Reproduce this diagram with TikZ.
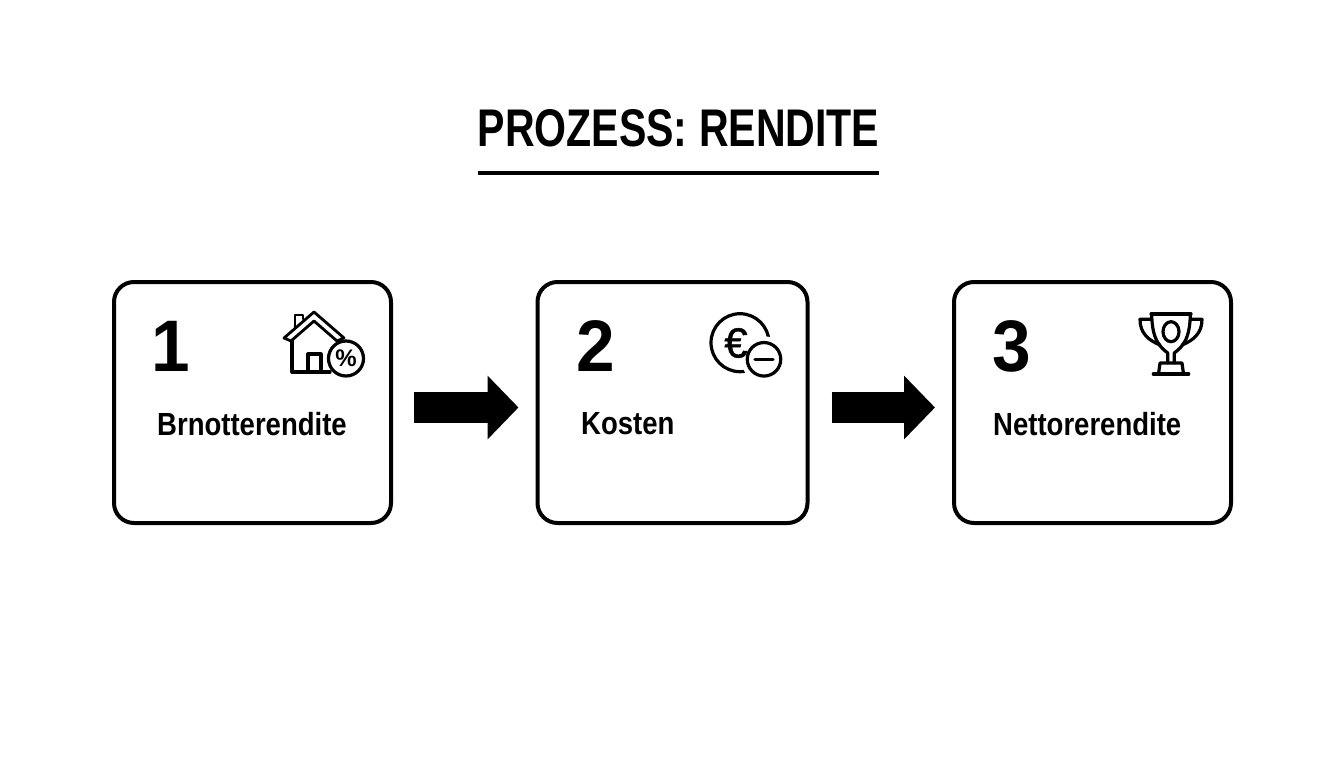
\documentclass[tikz,border=0pt]{standalone}
\usepackage{fontspec}
\setmainfont{Liberation Sans}
\newfontfamily\condfont[FakeStretch=0.86]{Liberation Sans}
\newfontfamily\titlefont[FakeStretch=0.775]{Liberation Sans}
\newfontfamily\numfont[FakeStretch=0.95]{Liberation Sans}
\newfontfamily\eurofont[FakeBold=1.2]{Liberation Sans}
\usepackage{tikz}
\usetikzlibrary{arrows.meta,positioning}
\tikzstyle{flowarrow} = [line width=31pt,-{Triangle[length=31pt,width=62pt]},color=black]
\tikzstyle{stepbox} = [rectangle, rounded corners=20pt, minimum height=241pt, draw=black, fill=white, line width=4pt]
\tikzstyle{steplabel} = [anchor=west, inner sep=0pt, font=\condfont\bfseries\fontsize{32}{32}\selectfont]
\tikzstyle{stepnum} = [anchor=west, inner sep=0pt, font=\numfont\bfseries\fontsize{73}{73}\selectfont]
\tikzstyle{icon} = [line width=3.2pt, line join=round, line cap=round]
\begin{document}
\begin{tikzpicture}[x=1pt,y=-1pt]
\useasboundingbox (0,0) rectangle (1344,768);
% Title
\node (title) [inner sep=0pt, font=\titlefont\bfseries\fontsize{53}{53}\selectfont] at (678.5,128) {PROZESS: RENDITE};
\coordinate (ruleL) at (478,173);
\coordinate (ruleR) at (879,173);
\draw[line width=4.5pt] (ruleL) -- (ruleR);

% Steps as nodes
\node (s1) [stepbox, minimum width=277pt] at (252.5,402.5) {};
\node (s2) [stepbox, minimum width=270pt] at (672.5,402.5) {};
\node (s3) [stepbox, minimum width=277pt] at (1092.5,402.5) {};

\node (n1) [stepnum] at (151,346) {1};
\node (n2) [stepnum] at (576,346) {2};
\node (n3) [stepnum] at (992,346) {3};

\node (t1) [steplabel] at (157,424) {Brnotterendite};
\node (t2) [steplabel] at (581,424) {Kosten};
\node (t3) [steplabel] at (993,424) {Nettorerendite};

% Arrows
\draw[flowarrow, shorten <=21pt, shorten >=17pt] ([yshift=-5pt]s1.east) -- ([yshift=-5pt]s2.west);
\draw[flowarrow, shorten <=22pt, shorten >=17pt] ([yshift=-5pt]s2.east) -- ([yshift=-5pt]s3.west);

% House icon
\draw[icon, line width=2.8pt] (284,338) -- (314,312) -- (344,338) -- (337,341) -- (314,321) -- (291,341) -- cycle;
\draw[icon, line width=2.8pt] (295,327) -- (295,315) -- (303,315) -- (303,319);
\draw[icon] (292,341) -- (292,372) -- (330,372);
\draw[icon] (308,372) -- (308,354) -- (321,354) -- (321,372);
\node (pct) [circle, draw=black, fill=white, line width=3.2pt, minimum size=35pt, inner sep=0pt, font=\bfseries\fontsize{24}{24}\selectfont] at (346,358.5) {\%};

% Euro icon
\draw[icon] (740,342.7) circle (29pt);
\fill[white] (764,359.3) circle (23pt);
\node (eur) [inner sep=0pt, font=\eurofont\fontsize{42}{42}\selectfont] at (736,343) {€};
\node (minus) [circle, draw=black, fill=white, line width=3.2pt, minimum size=33.5pt, inner sep=0pt] at (764,359.3) {};
\draw[icon] (755,359.3) -- (773,359.3);

% Trophy icon
\draw[icon] (1151,314) -- (1191,314);
\draw[icon] (1151.7,314) .. controls (1152,340) and (1160,347) .. (1167.7,353) -- (1167.7,363);
\draw[icon] (1190.3,314) .. controls (1190,340) and (1182,347) .. (1174.3,353) -- (1174.3,363);
\draw[icon] (1151,319.3) -- (1140,319.3) .. controls (1140,333) and (1148,340) .. (1160,345);
\draw[icon] (1191,319.3) -- (1202,319.3) .. controls (1202,333) and (1194,340) .. (1182,345);
\draw[icon] (1158.5,374) -- (1160,363) -- (1182,363) -- (1183.5,374);
\draw[icon] (1153.3,374) -- (1188.7,374);
\draw[icon] (1171,331.7) ellipse (8pt and 10pt);
\end{tikzpicture}
\end{document}
